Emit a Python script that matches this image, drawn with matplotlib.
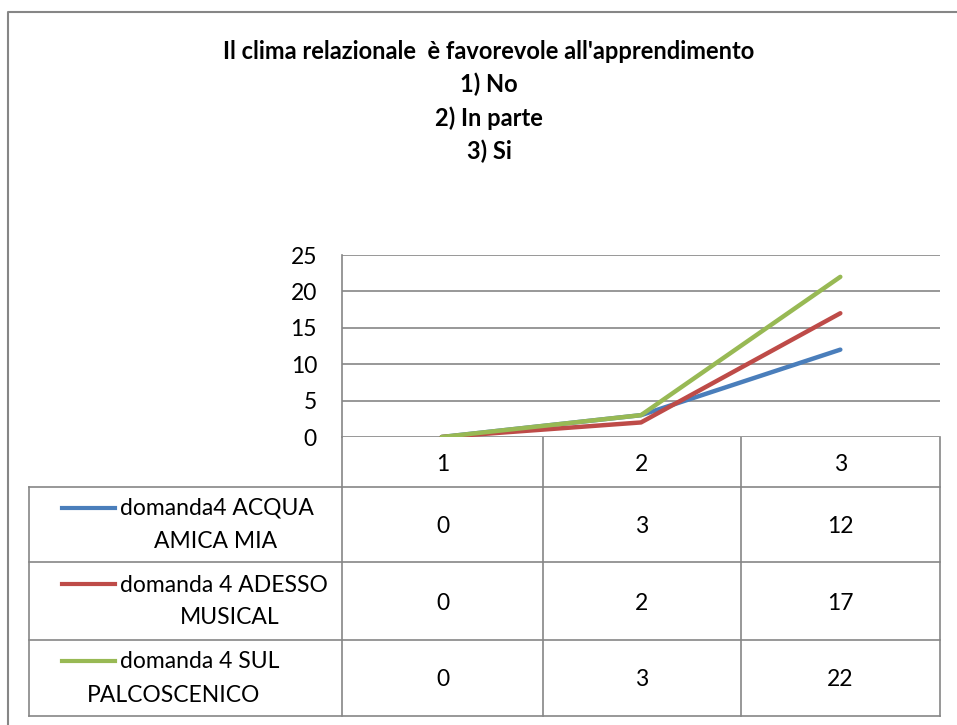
import matplotlib
matplotlib.use("Agg")
import matplotlib.pyplot as plt

categories = ["1", "2", "3"]
series_names = ["domanda4 ACQUA\nAMICA MIA", "domanda 4 ADESSO\nMUSICAL", "domanda 4 SUL\nPALCOSCENICO"]
acqua = [0, 3, 12]
adesso = [0, 2, 17]
palco = [0, 3, 22]
yticks = [0, 5, 10, 15, 20, 25]
title = "Il clima relazionale  è favorevole all'apprendimento\n1) No\n2) In parte\n3) Si"

colors = ["#4A7EBB", "#BE4B48", "#98B954"]
grid_c = "#868686"
font = "Lato"
fs = 16.5

W, H = 957, 725
fig = plt.figure(figsize=(W / 100, H / 100), dpi=100)

# helper axes in pixel coords for the frame and the data table
bg = fig.add_axes([0, 0, 1, 1])
bg.set_xlim(0, W)
bg.set_ylim(H, 0)
bg.axis("off")

# plot area
x0, x1, ytop, ybot = 342, 940, 255, 437
ax = fig.add_axes([x0 / W, 1 - ybot / H, (x1 - x0) / W, (ybot - ytop) / H])
xs = range(len(categories))
for vals, c in zip([acqua, adesso, palco], colors):
    ax.plot(xs, vals, color=c, lw=3.2, solid_capstyle="round", solid_joinstyle="round")
ax.set_xlim(-0.5, len(categories) - 0.5)
ax.set_ylim(0, 25)
ax.set_yticks(yticks)
ax.set_xticks([])
ax.yaxis.grid(True, color=grid_c, lw=1.2)
ax.set_axisbelow(True)
for s in ["top", "right", "bottom"]:
    ax.spines[s].set_visible(False)
ax.spines["left"].set_color(grid_c)
ax.spines["left"].set_linewidth(1.2)
ax.tick_params(axis="y", length=0, pad=18, labelsize=fs)
for t in ax.get_yticklabels():
    t.set_fontfamily(font)

# outer chart border
bg.plot([8, 8, W], [H, 12, 12], color=grid_c, lw=1.5)

# data table
col_x = [342, 543, 741, 940]
rows_y = [437, 487, 562, 640, 716]
tl = 29
lkw = dict(color=grid_c, lw=1.2)
for x in col_x:
    bg.plot([x, x], [rows_y[0], rows_y[-1]], **lkw)
for y in rows_y[1:]:
    bg.plot([tl, col_x[-1]], [y, y], **lkw)
bg.plot([tl, tl], [rows_y[1], rows_y[-1]], **lkw)

centers = [(col_x[i] + col_x[i + 1]) / 2 for i in range(3)]
for cx, cat in zip(centers, categories):
    bg.text(cx, (rows_y[0] + rows_y[1]) / 2 + 2, cat, ha="center", va="center", fontsize=fs, family=font)

line2_x = [216, 230, 174]
for r, (name, vals, c) in enumerate(zip(series_names, [acqua, adesso, palco], colors)):
    ya, yb = rows_y[r + 1], rows_y[r + 2]
    ym = (ya + yb) / 2
    bg.plot([62, 115], [ym - 17, ym - 17], color=c, lw=3)
    l1, l2 = name.split("\n")
    bg.text(120, ym - 16, l1, ha="left", va="center", fontsize=fs, family=font)
    bg.text(line2_x[r], ym + 17, l2, ha="center", va="center", fontsize=fs, family=font)
    for cx, v in zip(centers, vals):
        bg.text(cx, ym + 2, str(v), ha="center", va="center", fontsize=fs, family=font)

fig.text(489 / W, 1 - 40 / H, title, ha="center", va="top", fontsize=17, fontweight="bold",
         family=font, linespacing=1.5)

fig.savefig("out.png", dpi=100)
